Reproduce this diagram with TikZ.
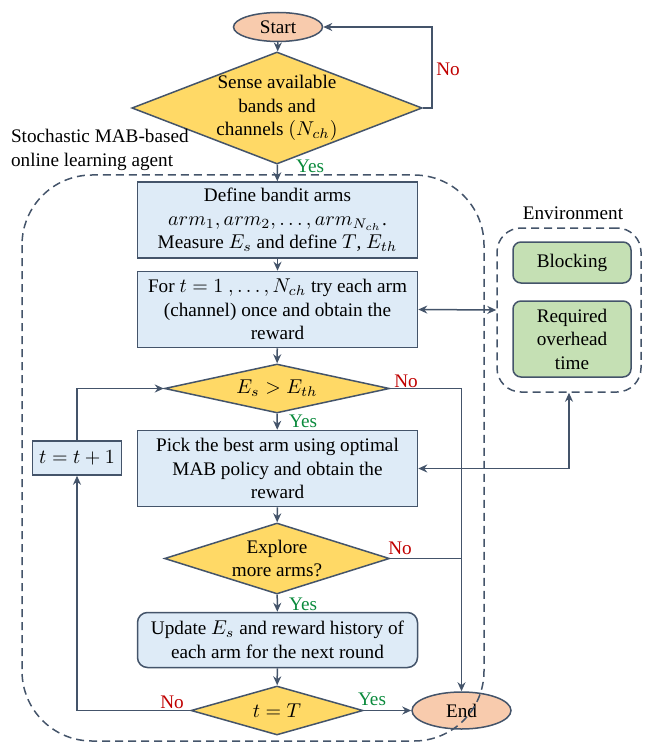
\documentclass[tikz,border=0pt]{standalone}
\usepackage{fontspec}
\setmainfont{Liberation Serif}
\usetikzlibrary{shapes.geometric,arrows.meta}
\definecolor{linec}{HTML}{44546A}
\definecolor{termc}{HTML}{F8CBAD}
\definecolor{decc}{HTML}{FFD966}
\definecolor{procc}{HTML}{DEEBF7}
\definecolor{envc}{HTML}{C5E0B4}
\definecolor{noc}{HTML}{C00000}
\definecolor{yesc}{HTML}{0A8A3C}
\tikzset{
  txt/.style={font=\rmfamily\fontsize{9.6}{11.75}\selectfont, align=center},
  base/.style={txt, draw=linec, line width=0.75pt},
  term/.style={base, ellipse, fill=termc, inner sep=0pt},
  decision/.style={base, diamond, fill=decc, inner sep=0pt},
  process/.style={base, rectangle, fill=procc, minimum width=140pt, minimum height=38pt, inner sep=0pt},
  envbox/.style={base, rectangle, rounded corners=4pt, fill=envc, minimum width=59pt, inner sep=0pt},
  arr/.style={-{Stealth[length=4.5pt,width=4pt]}, draw=linec, line width=0.75pt},
  darr/.style={{Stealth[length=4.5pt,width=4pt]}-{Stealth[length=4.5pt,width=4pt]}, draw=linec, line width=0.75pt},
  line/.style={draw=linec, line width=0.75pt},
  grouping/.style={draw=linec, line width=0.75pt, dash pattern=on 4pt off 2.5pt},
  nolab/.style={txt, text=noc},
  yeslab/.style={txt, text=yesc}
}
\begin{document}
\begin{tikzpicture}[x=0.5pt, y=-0.5pt]
  \useasboundingbox (0,0) rectangle (644,743);
  % flow nodes
  \node[term, minimum width=44.5pt, minimum height=14.5pt] (start) at (278,27) {Start};
  \node[decision, shape aspect=2.59, minimum width=140pt, minimum height=54pt] (sense) at (277,108)
    {Sense available\\bands and\\channels $(N_{ch})$};
  \node[process] (define) at (277.5,220) {Define bandit arms\\$arm_1, arm_2, \dots, arm_{N_{ch}}$.\\Measure $E_s$ and define $T$, $E_{th}$};
  \node[process] (try) at (277.5,309.5) {For $t=1\ ,\dots,N_{ch}$ try each arm\\(channel) once and obtain the\\reward};
  \node[decision, shape aspect=4.59, minimum width=112.5pt, minimum height=24.5pt] (energy) at (277,388.5) {$E_s > E_{th}$};
  \node[process] (pick) at (277.5,468.5) {Pick the best arm using optimal\\MAB policy and obtain the\\reward};
  \node[decision, shape aspect=3.17, minimum width=112.5pt, minimum height=35.5pt] (explore) at (277,558.5) {Explore\\more arms?};
  \node[process, rounded corners=5pt, minimum height=27.5pt] (update) at (277.5,640) {Update $E_s$ and reward history of\\each arm for the next round};
  \node[decision, shape aspect=3.51, minimum width=86pt, minimum height=24.5pt] (horizon) at (277,710.5) {$t=T$};
  \node[term, minimum width=49.5pt, minimum height=18.5pt] (end) at (461.5,710.5) {End};
  \node[process, minimum width=44.3pt, minimum height=17pt] (incr) at (77,458) {$t=t+1$};
  % environment
  \node[txt] (envlab) at (573,213) {Environment};
  \node[grouping, rounded corners=12pt, minimum width=72pt, minimum height=82pt] (env) at (569,310) {};
  \node[envbox, minimum height=20.5pt] (blocking) at (572,262.5) {Blocking};
  \node[envbox, minimum height=38pt] (overhead) at (572,339) {Required\\overhead\\time};
  \node[txt, align=left, anchor=west] (agentlab) at (4,150) {Stochastic MAB-based\\online learning agent};
  % connectors
  \coordinate (loopr) at (432,27);
  \draw[arr] (start) -- (sense);
  \draw[arr] (sense.east) -| (loopr) -- (start.east);
  \node[nolab] (no1) at (448,69) {No};
  \draw[arr] (sense) -- (define);
  \node[yeslab, anchor=west] (yes1) at (289,166) {Yes};
  \draw[arr] (define) -- (try);
  \draw[darr] (try.east) -- (env.west);
  \draw[arr] (try) -- (energy);
  \draw[arr] (energy) -- (pick);
  \node[yeslab, anchor=west] (yes2) at (282,421) {Yes};
  \draw[arr] (energy.east) -| (end.north);
  \node[nolab] (no2) at (406,381) {No};
  \draw[darr] (pick.east) -| (env.south);
  \draw[arr] (pick) -- (explore);
  \draw[line] (explore.east) -- (explore.east -| end.north);
  \node[nolab] (no3) at (400,548) {No};
  \draw[arr] (explore) -- (update);
  \node[yeslab, anchor=west] (yes3) at (282,604) {Yes};
  \draw[arr] (update) -- (horizon);
  \draw[arr] (horizon) -- (end);
  \node[yeslab] (yes4) at (372,699) {Yes};
  \draw[arr] (horizon.west) -| (incr.south);
  \node[nolab] (no4) at (172,702) {No};
  \draw[arr] (incr.north) |- (energy.west);
  % agent boundary
  \draw[grouping, rounded corners=35pt] (22,175) rectangle (484,741);
\end{tikzpicture}
\end{document}
